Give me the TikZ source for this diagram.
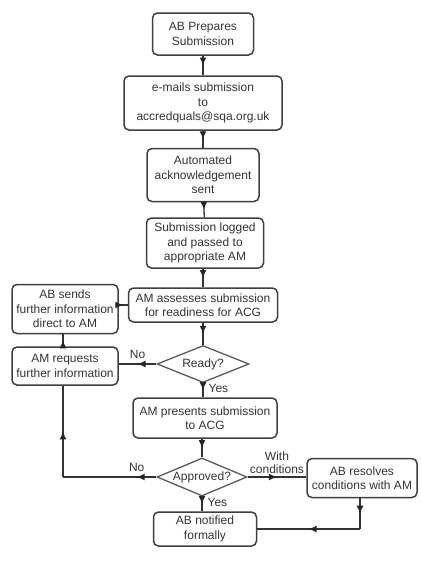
\documentclass[tikz,border=0pt]{standalone}
\usepackage{fontspec}
\setmainfont{Liberation Sans}
\usepackage{tikz}
\usetikzlibrary{arrows.meta,shapes.geometric,decorations.markings}

\begin{document}
\begin{tikzpicture}[x=1pt,y=1pt,
    box/.style={draw=black!75,line width=1.5pt,rounded corners=5pt,align=center,inner sep=0pt,text=black!80,font=\fontsize{12}{14.5}\selectfont},
    dec/.style={draw=black!65,line width=1.3pt,diamond,aspect=2.4,inner sep=0pt,text=black!80,font=\fontsize{12}{14.5}\selectfont},
    flow/.style={draw=black!80,line width=1.3pt,postaction={decorate},decoration={markings,mark=at position #1 with {\arrow[black!85]{Latex[length=8pt,width=7pt]}}}},
    flow/.default=0.5,
    lbl/.style={text=black!80,font=\fontsize{12}{12.5}\selectfont,inner sep=2pt}]
    \useasboundingbox (0,0) rectangle (421,-566);
    \node[box,minimum width=101pt,minimum height=42pt] (prep) at (203,-34) {AB Prepares\\Submission};
    \node[box,minimum width=158pt,minimum height=54pt] (mail) at (203,-103) {e-mails submission\\to\\accredquals@sqa.org.uk};
    \node[box,minimum width=112pt,minimum height=53pt] (ack) at (203,-175) {Automated\\acknowledgement\\sent};
    \node[box,minimum width=117pt,minimum height=50pt] (log) at (205,-243) {Submission logged\\and passed to\\appropriate AM};
    \node[box,minimum width=149pt,minimum height=34pt] (assess) at (203,-305) {AM assesses submission\\for readiness for ACG};
    \node[box,minimum width=106pt,minimum height=49pt] (send) at (65,-309) {AB sends\\further information\\direct to AM};
    \node[box,minimum width=106pt,minimum height=38pt] (req) at (65,-366) {AM requests\\further information};
    \node[dec,minimum width=92pt,minimum height=37pt] (ready) at (203,-364) {Ready?};
    \node[box,minimum width=144pt,minimum height=40pt] (pres) at (205,-418) {AM presents submission\\to ACG};
    \node[dec,minimum width=90pt,minimum height=38pt] (appr) at (202,-477) {Approved?};
    \node[box,minimum width=110pt,minimum height=39pt] (res) at (362,-478) {AB resolves\\conditions with AM};
    \node[box,minimum width=103pt,minimum height=34pt] (note) at (205,-529) {AB notified\\formally};
    \coordinate (cl) at (63,-477);
    \coordinate (cr) at (360,-529);

    \draw[flow] (prep) -- (mail);
    \draw[flow] (mail) -- (ack);
    \draw[flow] (ack) -- (log);
    \draw[flow] (log.south -| assess) -- (assess);
    \draw[flow] (assess) -- (ready);
    \draw[flow] (ready) -- node[lbl,anchor=west,pos=0.4,xshift=3pt] {Yes} (pres.north -| ready);
    \draw[flow] (ready.west) -- node[lbl,above=3pt] {No} (ready.west -| req.east);
    \draw[flow] (req.north -| cl) -- (send.south -| cl);
    \draw[flow] (send.east |- assess) -- (assess.west);
    \draw[flow] (pres.south -| appr) -- (appr);
    \draw[flow] (appr) -- node[lbl,anchor=west,pos=0.4,xshift=3pt] {Yes} (note.north -| appr);
    \draw[flow=0.21] (appr.west) -- node[lbl,above=3pt,pos=0.21] {No} (cl);
    \draw[flow] (cl) -- (req.south -| cl);
    \draw[flow] (appr.east) -- node[lbl,above=1pt,align=center] {With\\conditions} (appr.east -| res.west);
    \draw[flow] (res.south -| cr) -- (cr);
    \draw[flow] (cr) -- (note.east |- cr);
\end{tikzpicture}
\end{document}
